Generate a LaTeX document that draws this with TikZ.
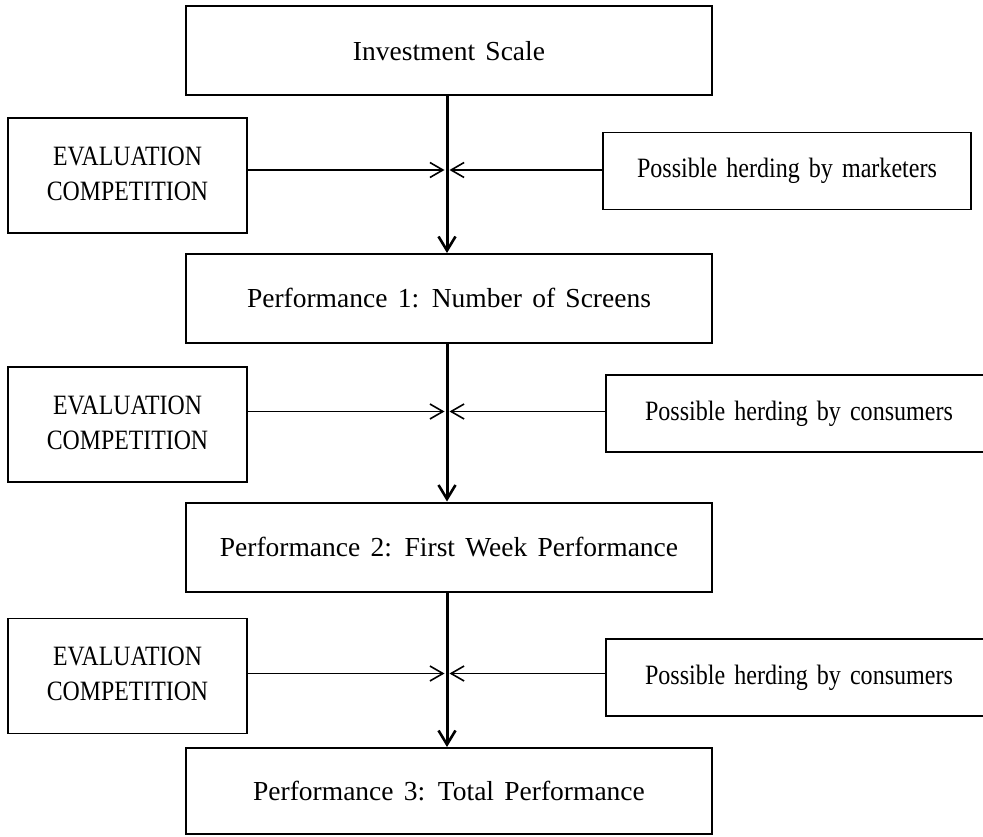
\documentclass[tikz,border=0pt]{standalone}
\usepackage{fontspec}
\usepackage{graphicx}
\setmainfont[WordSpace=1.5]{Liberation Serif}
\usetikzlibrary{arrows.meta}
\tikzset{
  mainbox/.style={draw, line width=2pt, minimum width=526pt, minimum height=89pt, inner sep=0pt, font=\fontsize{27.5}{32}\selectfont},
  evalbox/.style={draw, line width=1.8pt, minimum width=239pt, minimum height=115pt, inner sep=0pt},
  herdbox/.style={draw, line width=1.9pt, minimum height=77pt, inner sep=0pt},
  flow/.style={line width=3pt, -{Straight Barb[length=14pt,width=17pt,line width=2.6pt]}},
  sidearrow/.style={line width=1.7pt, -{Straight Barb[length=13pt,width=15pt,line width=1.6pt]}}
}
\newcommand{\evaltext}{\fontsize{28}{36}\selectfont\scalebox{0.85}[1]{\begin{tabular}{@{}c@{}}EVALUATION\\[-1pt]COMPETITION\end{tabular}}}
\newcommand{\herdtext}[1]{\fontsize{28}{34}\selectfont\scalebox{0.86}[1]{#1}}
\begin{document}
\begin{tikzpicture}[x=1pt,y=-1pt]
\useasboundingbox (0,0) rectangle (983,837);
% main boxes
\node[mainbox] (A) at (449,51) {Investment Scale};
\node[mainbox] (B) at (449,298.5) {Performance 1: Number of Screens};
\node[mainbox] (C) at (449,547) {Performance 2: First Week Performance};
\node[mainbox, minimum height=86pt] (D) at (449,791) {Performance 3: Total Performance};
% side boxes
\node[evalbox] (L1) at (127.5,175.5) {\evaltext};
\node[evalbox] (L2) at (127.5,424.5) {\evaltext};
\node[evalbox] (L3) at (127.5,676) {\evaltext};
\node[herdbox, minimum width=368pt] (R1) at (787,171) {\herdtext{Possible herding by marketers}};
\node[herdbox, minimum width=386pt] (R2) at (799,413.5) {\herdtext{Possible herding by consumers}};
\node[herdbox, minimum width=386pt] (R3) at (799,677.5) {\herdtext{Possible herding by consumers}};
% junction points on the main line
\coordinate (j1) at (447,170);
\coordinate (j2) at (447,411.5);
\coordinate (j3) at (447,673.5);
% main flow
\draw[flow] (A.south -| j1) -- (B.north -| j1);
\draw[flow] (B.south -| j1) -- (C.north -| j1);
\draw[flow] (C.south -| j1) -- (D.north -| j1);
% side arrows
\draw[sidearrow, shorten >=2.5pt] (L1.east |- j1) -- (j1);
\draw[sidearrow, shorten >=2.5pt] (R1.west |- j1) -- (j1);
\draw[sidearrow, shorten >=2.5pt] (L2.east |- j2) -- (j2);
\draw[sidearrow, shorten >=2.5pt] (R2.west |- j2) -- (j2);
\draw[sidearrow, shorten >=2.5pt] (L3.east |- j3) -- (j3);
\draw[sidearrow, shorten >=2.5pt] (R3.west |- j3) -- (j3);
\end{tikzpicture}
\end{document}
